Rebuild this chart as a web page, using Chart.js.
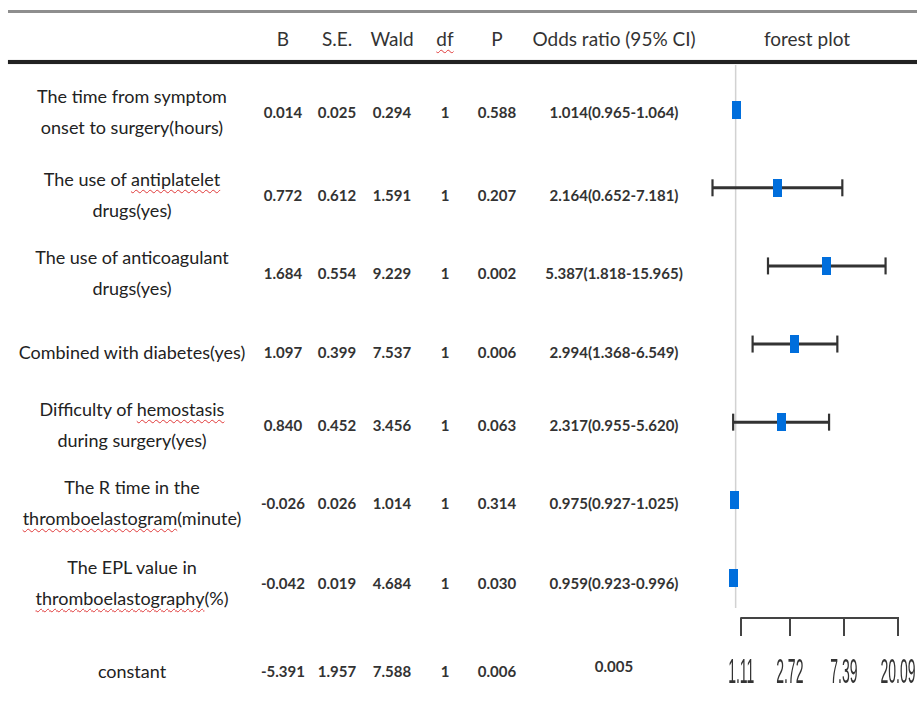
<!DOCTYPE html>
<html>
<head>
<meta charset="utf-8">
<script src="https://cdn.jsdelivr.net/npm/chart.js@4/dist/chart.umd.min.js"></script>
<style>
  html, body { margin: 0; padding: 0; background: #fff; }
  body { width: 917px; height: 716px; position: relative; overflow: hidden;
         font-family: Lato, "Open Sans", sans-serif; color: #222; }
  .rule1 { position: absolute; left: 8px; right: 0; top: 10px; height: 3px; background: #8e8e8e; }
  .rule2 { position: absolute; left: 8px; right: 0; top: 60px; height: 4px; background: #222; box-shadow: 0 0 1px #777; }
  .cell { position: absolute; transform: translate(-50%, -50%); white-space: nowrap; text-align: center; }
  .hdr { font-size: 19px; color: #333; }
  .lab { font-size: 18px; line-height: 31px; color: #222; }
  .val { font-size: 15px; font-weight: 700; color: #333; }
  .sp { text-decoration: underline wavy #e03a3a; text-decoration-thickness: 1px; text-underline-offset: 3px; }
  #c { position: absolute; left: 0; top: 0; pointer-events: none; }
</style>
</head>
<body>
<div class="rule1"></div>
<div class="rule2"></div>
<div id="table"></div>
<canvas id="c" width="917" height="716"></canvas>
<script>
// ---------------- data ----------------
const variables = [
  'The time from symptom\nonset to surgery(hours)',
  'The use of antiplatelet\ndrugs(yes)',
  'The use of anticoagulant\ndrugs(yes)',
  'Combined with diabetes(yes)',
  'Difficulty of hemostasis\nduring surgery(yes)',
  'The R time in the\nthromboelastogram(minute)',
  'The EPL value in\nthromboelastography(%)',
  'constant'
];
const columns = ['B', 'S.E.', 'Wald', 'df', 'P', 'Odds ratio (95% CI)', 'forest plot'];
const B    = [0.014, 0.772, 1.684, 1.097, 0.840, -0.026, -0.042, -5.391];
const SE   = [0.025, 0.612, 0.554, 0.399, 0.452, 0.026, 0.019, 1.957];
const Wald = [0.294, 1.591, 9.229, 7.537, 3.456, 1.014, 4.684, 7.588];
const DF   = [1, 1, 1, 1, 1, 1, 1, 1];
const P    = [0.588, 0.207, 0.002, 0.006, 0.063, 0.314, 0.030, 0.006];
const OR     = [1.014, 2.164, 5.387, 2.994, 2.317, 0.975, 0.959, 0.005];
const ciLow  = [0.965, 0.652, 1.818, 1.368, 0.955, 0.927, 0.923, null];
const ciHigh = [1.064, 7.181, 15.965, 6.549, 5.620, 1.025, 0.996, null];
const tickValues = [1.11, 2.72, 7.39, 20.09];
const tickLabels = ['1.11', '2.72', '7.39', '20.09'];
const flaggedWords = ['thromboelastography', 'thromboelastogram', 'antiplatelet', 'hemostasis', 'df'];

// ---------------- layout ----------------
const colX = [283, 337, 392, 445, 497, 614, 807];
const labelX = 132;
const headerY = 38;
const rowY = [112, 195, 273, 352, 425, 503, 583, 671];

function mark(text) {
  const re = new RegExp('\\b(' + flaggedWords.join('|') + ')\\b', 'g');
  return text.replace(/&/g, '&amp;').replace(/</g, '&lt;')
             .replace(re, '<span class="sp">$1</span>');
}
const tbl = document.getElementById('table');
function addCell(cls, x, y, html) {
  const d = document.createElement('div');
  d.className = 'cell ' + cls;
  d.style.left = x + 'px';
  d.style.top = y + 'px';
  d.innerHTML = html;
  tbl.appendChild(d);
}
columns.forEach((c, j) => addCell('hdr', colX[j], headerY, mark(c)));
const f3 = v => v.toFixed(3);
variables.forEach((v, i) => {
  addCell('lab', labelX, rowY[i], v.split('\n').map(mark).join('<br>'));
  addCell('val', colX[0], rowY[i], f3(B[i]));
  addCell('val', colX[1], rowY[i], f3(SE[i]));
  addCell('val', colX[2], rowY[i], f3(Wald[i]));
  addCell('val', colX[3], rowY[i], String(DF[i]));
  addCell('val', colX[4], rowY[i], f3(P[i]));
  const orText = ciLow[i] == null ? f3(OR[i]) : f3(OR[i]) + '(' + f3(ciLow[i]) + '-' + f3(ciHigh[i]) + ')';
  addCell('val', colX[5], ciLow[i] == null ? rowY[i] - 5 : rowY[i], orText);
});

// ---------------- forest plot ----------------
const markerImg = document.createElement('canvas');
markerImg.width = 9; markerImg.height = 18;
(function () {
  const g = markerImg.getContext('2d');
  g.fillStyle = '#006edc';
  g.fillRect(0, 0, 9, 18);
})();

const plotRows = [];
for (let i = 0; i < OR.length; i++) if (ciLow[i] != null) plotRows.push(i);

const datasets = [];
datasets.push({
  label: 'OR', order: 1, clip: false,
  data: plotRows.map(i => ({ x: OR[i], y: i })),
  pointStyle: markerImg, pointRadius: 5, showLine: false
});
datasets.push({
  label: 'caps', order: 2, clip: false,
  data: plotRows.flatMap(i => [{ x: ciLow[i], y: i }, { x: ciHigh[i], y: i }]),
  pointStyle: 'line', pointRotation: 90, pointRadius: 8.5,
  pointBorderWidth: 2.2, pointBorderColor: '#333', showLine: false
});
plotRows.forEach(i => datasets.push({
  label: 'ci' + i, order: 3, clip: false,
  data: [{ x: ciLow[i], y: i }, { x: ciHigh[i], y: i }],
  showLine: true, borderColor: '#333', borderWidth: 3, pointRadius: 0
}));
datasets.push({
  label: 'ref', order: 4, clip: false,
  data: [{ x: 1, y: -0.572 }, { x: 1, y: 6.38 }],
  showLine: true, borderColor: '#d2d2d2', borderWidth: 1.5, pointRadius: 0
});

const axisPlugin = {
  id: 'axisLine',
  afterDraw(chart) {
    const s = chart.scales.x;
    const ctx = chart.ctx;
    const y = chart.chartArea.bottom;
    const x0 = s.getPixelForValue(tickValues[0]);
    const x1 = s.getPixelForValue(tickValues[tickValues.length - 1]);
    ctx.save();
    ctx.strokeStyle = '#444';
    ctx.lineWidth = 2;
    ctx.beginPath();
    ctx.moveTo(x0 - 1, y);
    ctx.lineTo(x1 + 1, y);
    ctx.stroke();
    ctx.fillStyle = '#333';
    ctx.font = '35px "Liberation Sans", Arial, sans-serif';
    ctx.textAlign = 'center';
    ctx.textBaseline = 'middle';
    tickValues.forEach((v, k) => {
      const x = s.getPixelForValue(v);
      ctx.save();
      ctx.translate(x, 673);
      ctx.scale(0.4, 1);
      ctx.fillText(tickLabels[k], 0, 0);
      ctx.restore();
    });
    ctx.restore();
  }
};

new Chart(document.getElementById('c'), {
  type: 'scatter',
  data: { datasets },
  options: {
    responsive: false,
    animation: false,
    events: [],
    layout: { padding: { left: 708, right: 19, top: 65, bottom: 80 } },
    plugins: { legend: { display: false }, tooltip: { enabled: false } },
    scales: {
      x: {
        type: 'logarithmic',
        position: 'bottom',
        min: 0.6,
        max: tickValues[tickValues.length - 1],
        afterBuildTicks: s => { s.ticks = tickValues.map(v => ({ value: v })); },
        ticks: { display: false },
        grid: { display: true, drawOnChartArea: false, drawTicks: true, tickLength: 18,
                color: '#444', lineWidth: 2 },
        border: { display: false }
      },
      y: {
        type: 'linear', display: false, reverse: true,
        min: -0.572, max: 6.507
      }
    }
  },
  plugins: [axisPlugin]
});
</script>
</body>
</html>
